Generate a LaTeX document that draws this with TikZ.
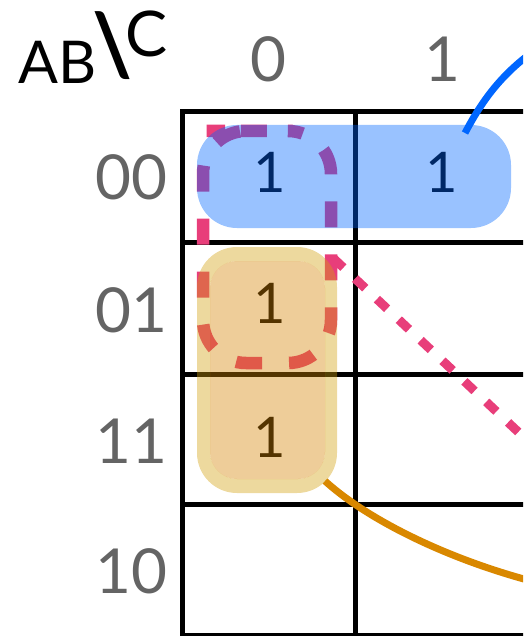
\documentclass[tikz,border=0pt]{standalone}
\usepackage{fontspec}
\setmainfont{Lato}
\definecolor{pinkC}{RGB}{232,62,122}
\definecolor{blueC}{RGB}{0,102,255}
\definecolor{orangeC}{RGB}{217,136,0}
\definecolor{orangeI}{RGB}{212,130,0}
\definecolor{goldC}{RGB}{210,160,12}
\definecolor{labgray}{RGB}{100,100,100}
\begin{document}
\begin{tikzpicture}[x=1pt,y=-1pt,
  gridline/.style={line width=5pt, black},
  hdr/.style={text=labgray, font=\fontsize{62pt}{62pt}\selectfont, inner sep=0pt},
  corner/.style={text=black, font=\fontsize{59pt}{59pt}\selectfont, inner sep=0pt},
  cellval/.style={text=black, font=\fontsize{56pt}{56pt}\selectfont, inner sep=0pt, anchor=base},
  pinkdash/.style={pinkC, line width=12.5pt, dash pattern=on 26pt off 27pt, dash phase=6.5pt},
  pinkdiag/.style={pinkC, line width=9pt, dash pattern=on 14pt off 16pt, dash phase=27pt},
  link/.style={line width=7pt}]
\useasboundingbox (0,0) rectangle (523,636);
\clip (0,0) rectangle (523,636);
% grid
\draw[gridline] (182,645) -- (182,112) -- (545,112);
\draw[gridline] (355,112) -- (355,645);
\draw[gridline] (528,112) -- (528,645);
\draw[gridline] (182,242) -- (545,242);
\draw[gridline] (182,374) -- (545,374);
\draw[gridline] (182,504.5) -- (545,504.5);
\draw[gridline] (182,635) -- (545,635);
% corner label
\node[corner, anchor=base west] (ab) at (18,84) {AB};
\node[corner, anchor=center, font=\fontsize{86pt}{86pt}\selectfont\bfseries] (bs) at (112.5,46) {\textbackslash};
\node[corner, anchor=base west, font=\fontsize{63pt}{63pt}\selectfont] (cc) at (125,57) {C};
% column headers
\node[hdr, anchor=base] (c0) at (268,82) {0};
\node[hdr, anchor=base] (c1) at (442,82) {1};
% row headers
\node[hdr, anchor=base east] (r00) at (168,200) {00};
\node[hdr, anchor=base east] (r01) at (168,332) {01};
\node[hdr, anchor=base east] (r11) at (168,463) {11};
\node[hdr, anchor=base east] (r10) at (168,593) {10};
% cell values
\node[cellval] (v000) at (270,192.5) {1};
\node[cellval] (v001) at (442,193) {1};
\node[cellval] (v010) at (270,323) {1};
\node[cellval] (v110) at (270,457) {1};
% pink dashed group and its connector
\draw[pinkdash, rounded corners=43pt] (249.5,131) -- (331,131) -- (331,363) -- (203,363) -- (203,131) -- cycle;
\coordinate (dstart) at (331,256);
\coordinate (dend) at (580,490);
\draw[pinkdiag] (dstart) -- (dend);
% orange connector
\coordinate (ostart) at (325,481);
\coordinate (oend) at (560,588);
\draw[link, orangeC] (ostart) .. controls (370,522) and (460,566) .. (oend);
% blue connector
\coordinate (bstart) at (465,133);
\coordinate (bend) at (535,50);
\draw[link, blueC] (bstart) .. controls (485,95) and (505,72) .. (bend);
% blue group overlay
\node[draw=none, fill=blueC, fill opacity=0.4, rounded corners=40pt, minimum width=314pt, minimum height=103pt, inner sep=0pt] (grpB) at (354,176.5) {};
% orange group overlay
\fill[goldC, fill opacity=0.4, even odd rule, rounded corners=40pt] (197,247) rectangle (337,493) [rounded corners=27pt] (210,261) rectangle (325,479);
\fill[orangeI, fill opacity=0.4, rounded corners=27pt] (210,261) rectangle (325,479);
\end{tikzpicture}
\end{document}
